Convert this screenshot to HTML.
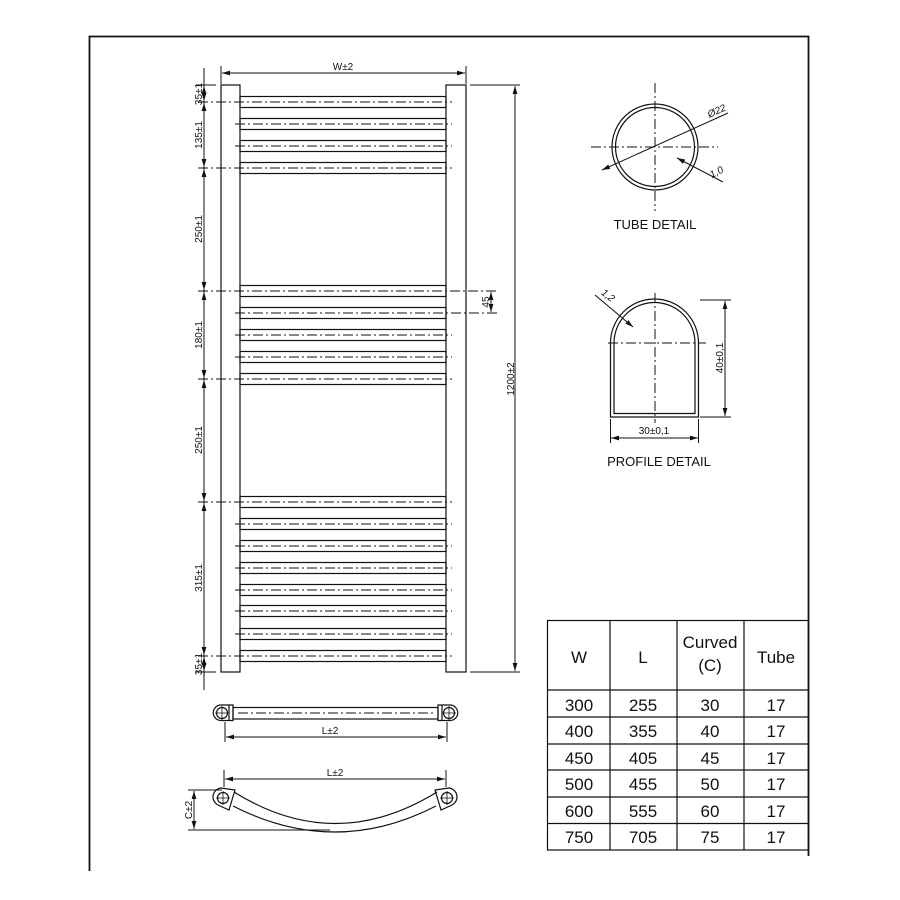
<!DOCTYPE html>
<html><head><meta charset="utf-8"><style>
html,body{margin:0;padding:0;background:#fff;}
svg{display:block;}
text{font-family:"Liberation Sans",sans-serif;fill:#111;}
</style></head><body>
<svg width="900" height="900" viewBox="0 0 900 900" xmlns="http://www.w3.org/2000/svg">
<defs>
<marker id="a" viewBox="0 0 10 6" refX="10" refY="3" markerWidth="8" markerHeight="5" orient="auto-start-reverse" markerUnits="userSpaceOnUse"><path d="M0,0 L10,3 L0,6z" fill="#111"/></marker>
</defs>
<g stroke="#111" fill="none" stroke-width="1.2">
<path d="M89.5,871 V36.5 H808.5 V856" stroke-width="1.8"/>
<rect x="221" y="85" width="19" height="587"/>
<rect x="446" y="85" width="20" height="587"/>
<g>
<rect x="240" y="96.5" width="206" height="11"/><rect x="240" y="118.5" width="206" height="11"/><rect x="240" y="140.5" width="206" height="11"/><rect x="240" y="162.5" width="206" height="11"/>
<rect x="240" y="285.5" width="206" height="11"/><rect x="240" y="307.5" width="206" height="11"/><rect x="240" y="329.5" width="206" height="11"/><rect x="240" y="351.5" width="206" height="11"/><rect x="240" y="373.5" width="206" height="11"/>
<rect x="240" y="496.5" width="206" height="11"/><rect x="240" y="518.5" width="206" height="11"/><rect x="240" y="540.5" width="206" height="11"/><rect x="240" y="562.5" width="206" height="11"/><rect x="240" y="584.5" width="206" height="11"/><rect x="240" y="605.5" width="206" height="11"/><rect x="240" y="628.5" width="206" height="11"/><rect x="240" y="650.5" width="206" height="11"/>
</g>
<g stroke-dasharray="10 3 2 3" stroke-width="1">
<path d="M198,102H452 M235,124H452 M235,146H452 M198,168H452 M198,291H497 M235,313H497 M235,335H452 M235,357H452 M198,379H452 M198,502H452 M235,524H452 M235,546H452 M235,568H452 M235,590H452 M235,611H452 M235,634H452 M198,656H452"/>
</g>
<path d="M204,68V690" stroke-width="1"/>
<path d="M196,85H216 M196,672H216" stroke-width="1"/>
<g stroke-width="1" marker-start="url(#a)" marker-end="url(#a)">
<path d="M204,86V101"/><path d="M204,103V167"/><path d="M204,169V290"/><path d="M204,292V378"/><path d="M204,380V501"/><path d="M204,503V655"/><path d="M204,657V671"/>
</g>
<path d="M221,66V84 M466,66V84" stroke-width="1"/>
<path d="M222,73H465" stroke-width="1" marker-start="url(#a)" marker-end="url(#a)"/>
<path d="M470,85H520 M470,672H520" stroke-width="1"/>
<path d="M515,86V671" stroke-width="1" marker-start="url(#a)" marker-end="url(#a)"/>
<path d="M491,292V312" stroke-width="1" marker-start="url(#a)" marker-end="url(#a)"/>
<circle cx="655" cy="147" r="43"/>
<circle cx="655" cy="147" r="39.5"/>
<path d="M591,147H718 M655,83V211" stroke-width="1" stroke-dasharray="10 3 2 3"/>
<path d="M602,170L728,113" stroke-width="1" marker-start="url(#a)"/>
<path d="M677,158L723,182" stroke-width="1" marker-start="url(#a)"/>
<path d="M610.5,417V343A44,44 0 0 1 698.5,343V417Z"/>
<path d="M614,413.5V343A40.5,40.5 0 0 1 695,343V413.5Z"/>
<path d="M608,343H706 M655,293V423" stroke-width="1" stroke-dasharray="10 3 2 3"/>
<path d="M700,300H731 M700,417H731" stroke-width="1"/>
<path d="M725,301V416" stroke-width="1" marker-start="url(#a)" marker-end="url(#a)"/>
<path d="M610.5,419V443 M698.5,419V443" stroke-width="1"/>
<path d="M611,438H698" stroke-width="1" marker-start="url(#a)" marker-end="url(#a)"/>
<path d="M595,295L633,327" stroke-width="1" marker-end="url(#a)"/>
<!-- top view -->
<rect x="233" y="707.5" width="205" height="11.5"/>
<path d="M233,705V720.5H221A7.75,7.75 0 0 1 221,705Z"/>
<path d="M438,705V720.5H450A7.75,7.75 0 0 0 450,705Z"/>
<path d="M229,705V720.5 M442,705V720.5"/>
<circle cx="222" cy="713" r="5.5"/><circle cx="449" cy="713" r="5.5"/>
<path d="M215,713H229 M222,706V720 M442,713H456 M449,706V720" stroke-width="0.8"/>
<path d="M238,713H436" stroke-width="1" stroke-dasharray="10 3 2 3"/>
<path d="M225,722V742 M447,722V742" stroke-width="1"/>
<path d="M226,737H446" stroke-width="1" marker-start="url(#a)" marker-end="url(#a)"/>
<!-- curved view -->
<path d="M224,770V787 M446,770V787" stroke-width="1"/>
<path d="M225,779H445" stroke-width="1" marker-start="url(#a)" marker-end="url(#a)"/>
<path d="M234,792Q335,855 437,792"/>
<path d="M233,806Q335,858 436,806"/>
<path d="M235,790L221,788A9,9 0 0 0 218,805L229,810Z"/>
<path d="M435,790L449,788A9,9 0 0 1 452,805L441,810Z"/>
<circle cx="223" cy="798" r="5.5"/><circle cx="447" cy="798" r="5.5"/>
<path d="M216,798H230 M223,791V805 M440,798H454 M447,791V805" stroke-width="0.8"/>
<path d="M188,790H222 M188,830H330" stroke-width="1"/>
<path d="M194,791V829" stroke-width="1" marker-start="url(#a)" marker-end="url(#a)"/>
<rect x="547.5" y="620.5" width="261" height="229.5"/>
<path d="M610,620.5V850 M677,620.5V850 M744,620.5V850 M547.5,690H808.5 M547.5,717H808.5 M547.5,744H808.5 M547.5,770H808.5 M547.5,797H808.5 M547.5,823.5H808.5"/>
</g>
<g font-size="10" text-anchor="middle">
<text x="343" y="70">W±2</text>
<text transform="translate(202,94) rotate(-90)">35±1</text>
<text transform="translate(202,135) rotate(-90)">135±1</text>
<text transform="translate(202,229) rotate(-90)">250±1</text>
<text transform="translate(202,335) rotate(-90)">180±1</text>
<text transform="translate(202,440) rotate(-90)">250±1</text>
<text transform="translate(202,578) rotate(-90)">315±1</text>
<text transform="translate(202,664) rotate(-90)">35±1</text>
<text transform="translate(514,379) rotate(-90)">1200±2</text>
<text transform="translate(489,302) rotate(-90)">45</text>
<text transform="translate(718,114) rotate(-24)" font-style="italic">Ø22</text>
<text transform="translate(718,175) rotate(-28)" font-style="italic">1,0</text>
<text transform="translate(606,298) rotate(38)" font-style="italic">1,2</text>
<text transform="translate(723,358) rotate(-90)">40±0,1</text>
<text x="654" y="434">30±0,1</text>
<text x="330" y="734">L±2</text>
<text x="335" y="776">L±2</text>
<text transform="translate(192,810) rotate(-90)">C±2</text>
</g>
<g font-size="13" text-anchor="middle">
<text x="655" y="229">TUBE DETAIL</text>
<text x="659" y="466">PROFILE DETAIL</text>
</g>
<g font-size="17" text-anchor="middle">
<text x="579" y="663">W</text><text x="643" y="663">L</text>
<text x="710" y="648">Curved</text><text x="710" y="671">(C)</text><text x="776" y="663">Tube</text>
<text x="579" y="711">300</text><text x="643" y="711">255</text><text x="710" y="711">30</text><text x="776" y="711">17</text>
<text x="579" y="737">400</text><text x="643" y="737">355</text><text x="710" y="737">40</text><text x="776" y="737">17</text>
<text x="579" y="764">450</text><text x="643" y="764">405</text><text x="710" y="764">45</text><text x="776" y="764">17</text>
<text x="579" y="790">500</text><text x="643" y="790">455</text><text x="710" y="790">50</text><text x="776" y="790">17</text>
<text x="579" y="817">600</text><text x="643" y="817">555</text><text x="710" y="817">60</text><text x="776" y="817">17</text>
<text x="579" y="843">750</text><text x="643" y="843">705</text><text x="710" y="843">75</text><text x="776" y="843">17</text>
</g>
</svg>
</body></html>
